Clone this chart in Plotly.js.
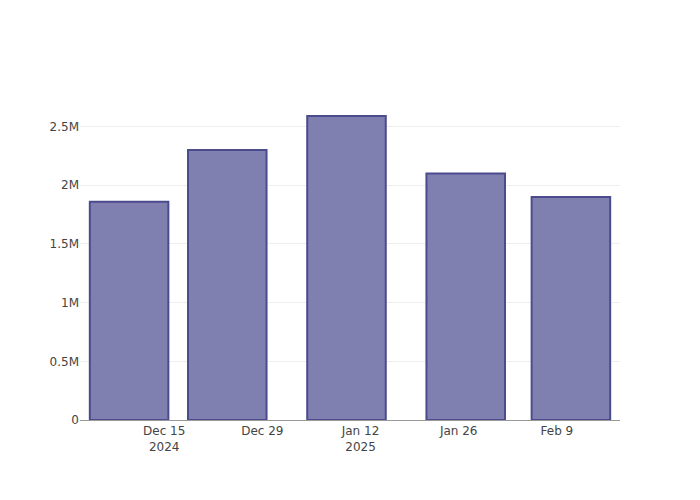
<!DOCTYPE html>
<html>
<head>
<meta charset="utf-8">
<script src="https://cdn.plot.ly/plotly-3.0.1.min.js"></script>
<style>html,body{margin:0;padding:0;background:#fff;}#chart{width:700px;height:500px;}</style>
</head>
<body>
<div id="chart"></div>
<script>
var dates = ['2024-12-10', '2024-12-24', '2025-01-10', '2025-01-27', '2025-02-11'];
var values = [1860000, 2300000, 2590000, 2100000, 1900000];

var trace = {
  type: 'bar',
  x: dates,
  y: values,
  marker: {
    color: 'rgb(127,127,176)',
    line: {color: 'rgb(75,75,142)', width: 2}
  }
};

var layout = {
  width: 700,
  height: 500,
  margin: {l: 80, r: 80, t: 100, b: 80},
  paper_bgcolor: '#fff',
  plot_bgcolor: '#fff',
  font: {family: '"DejaVu Sans", verdana, sans-serif', size: 12, color: '#444'},
  showlegend: false,
  xaxis: {
    type: 'date',
    showgrid: false,
    showline: true,
    linecolor: '#999',
    linewidth: 1,
    ticks: '',
    zeroline: false
  },
  yaxis: {
    showgrid: true,
    gridcolor: '#eee',
    zeroline: false,
    showline: false
  },
  bargap: 0.2
};

Plotly.newPlot('chart', [trace], layout, {displayModeBar: false, staticPlot: true});
</script>
</body>
</html>
